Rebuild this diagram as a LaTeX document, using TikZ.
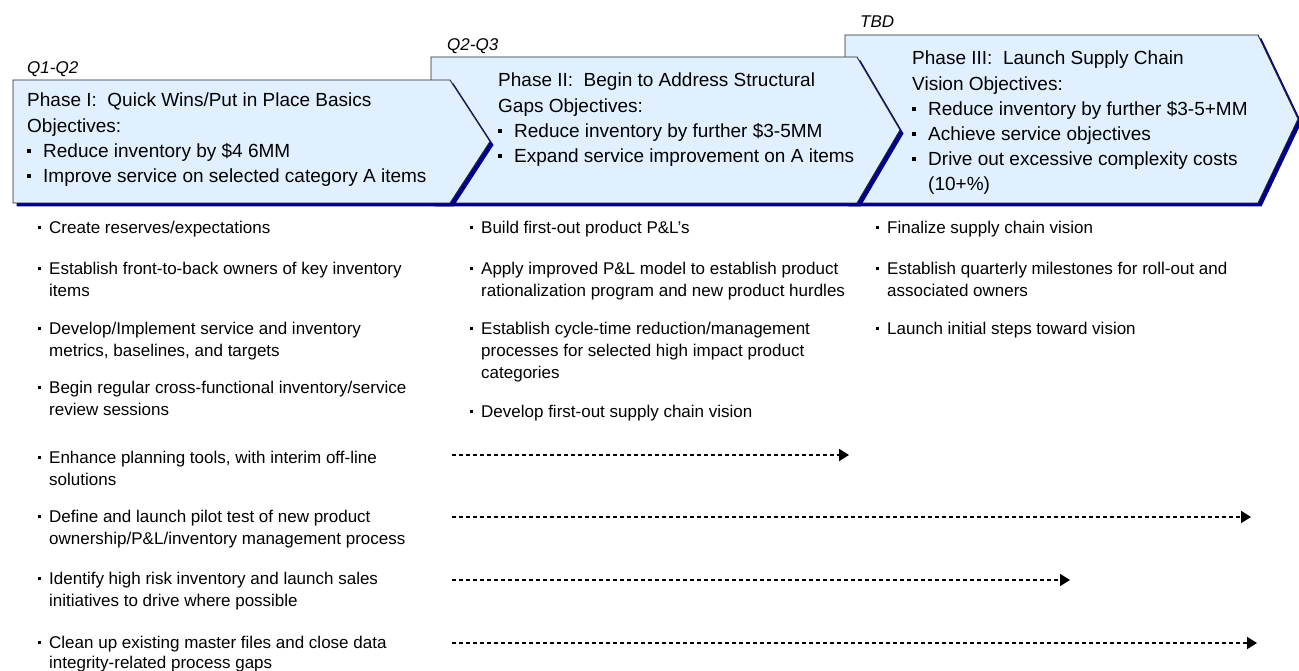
\documentclass[tikz,border=0pt]{standalone}
\usepackage{fontspec}
\setmainfont{Liberation Sans}
\usetikzlibrary{arrows.meta}
\definecolor{phasefill}{RGB}{224,240,255}
\definecolor{phaseshadow}{RGB}{0,0,140}
\newcommand{\gb}{\makebox[16pt][l]{\rule[0.25em]{0.2em}{0.2em}}}
\newcommand{\tb}{\llap{\rule[0.25em]{0.2em}{0.2em}\hspace{8pt}}}
\tikzset{
    phase/.style={draw=black!85, line width=0.9pt, fill=phasefill}, % the chevrons
    phaseshade/.style={fill=phaseshadow, draw=none}, % offset shadow under each chevron
    when/.style={anchor=base west, inner sep=0, font=\fontsize{17}{20}\selectfont\itshape},
    goal/.style={anchor=north west, inner sep=0, align=left, font=\fontsize{19}{25.2}\selectfont},
    task/.style={anchor=north west, inner sep=0, align=left, font=\fontsize{17}{22}\selectfont},
    carry/.style={line width=1.7pt, dash pattern=on 4pt off 3pt, -{Triangle[length=10pt,width=12pt]}},
    }

\begin{document}
\begin{tikzpicture}[x=1pt,y=-1pt]
    \useasboundingbox (0,0) rectangle (1299,671);

    % chevrons, back to front
    \foreach \l/\t/\r/\tip in {845/35/1258/1298, 431/57/857/900, 13/80/450/490}{
        \fill[phaseshade,shift={(3.5,3.5)}] (\l,\t) -- (\r,\t) -- (\tip,{(\t+203)/2}) -- (\r,203) -- (\l,203) -- cycle;
        \draw[phase] (\l,\t) -- (\r,\t) -- (\tip,{(\t+203)/2}) -- (\r,203) -- (\l,203) -- cycle;
    }

    \node[when] at (27,74) (QONE) {Q1-Q2};
    \node[when] at (447,51) (QTWO) {Q2-Q3};
    \node[when] at (860,28) (TBD) {TBD};

    \node[goal] at (27,93) (PHASEI) {Phase I:\ \ Quick Wins/Put in Place Basics\\Objectives:\\\gb Reduce inventory by \$4 6MM\\\gb Improve service on selected category A items};
    \node[goal] at (498,73) (PHASEII) {Phase II:\ \ Begin to Address Structural\\Gaps Objectives:\\\gb Reduce inventory by further \$3-5MM\\\gb Expand service improvement on A items};
    \node[goal] at (912,51) (PHASEIII) {Phase III:\ \ Launch Supply Chain\\Vision Objectives:\\\gb Reduce inventory by further \$3-5+MM\\\gb Achieve service objectives\\\gb Drive out excessive complexity costs\\\hspace*{16pt}(10+\%)};

    % first column
    \node[task] at (49,221) (CREATE) {\tb Create reserves/expectations};
    \node[task] at (49,262) (OWNERS) {\tb Establish front-to-back owners of key inventory\\items};
    \node[task] at (49,322) (METRICS) {\tb Develop/Implement service and inventory\\metrics, baselines, and targets};
    \node[task] at (49,381) (REVIEW) {\tb Begin regular cross-functional inventory/service\\review sessions};
    \node[task] at (49,451) (TOOLS) {\tb Enhance planning tools, with interim off-line\\solutions};
    \node[task] at (49,510) (PILOT) {\tb Define and launch pilot test of new product\\ownership/P\&L/inventory management process};
    \node[task] at (49,572) (RISK) {\tb Identify high risk inventory and launch sales\\initiatives to drive where possible};
    \node[task, font=\fontsize{17}{19.5}\selectfont] at (49,636) (CLEAN) {\tb Clean up existing master files and close data\\integrity-related process gaps};

    % second column
    \node[task] at (481,221) (PNL) {\tb Build first-out product P\&L's};
    \node[task] at (481,262) (MODEL) {\tb Apply improved P\&L model to establish product\\rationalization program and new product hurdles};
    \node[task] at (481,322) (CYCLE) {\tb Establish cycle-time reduction/management\\processes for selected high impact product\\categories};
    \node[task] at (481,405) (VISION) {\tb Develop first-out supply chain vision};

    % third column
    \node[task] at (887,221) (FINAL) {\tb Finalize supply chain vision};
    \node[task] at (887,262) (MILES) {\tb Establish quarterly milestones for roll-out and\\associated owners};
    \node[task] at (887,322) (LAUNCH) {\tb Launch initial steps toward vision};

    % carry-over arrows
    \coordinate (TOOLSA) at (452,455);
    \coordinate (TOOLSB) at (849,455);
    \coordinate (PILOTA) at (452,517);
    \coordinate (PILOTB) at (1251,517);
    \coordinate (RISKA) at (452,580);
    \coordinate (RISKB) at (1070,580);
    \coordinate (CLEANA) at (452,643);
    \coordinate (CLEANB) at (1257,643);
    \draw[carry] (TOOLSA) -- (TOOLSB);
    \draw[carry] (PILOTA) -- (PILOTB);
    \draw[carry] (RISKA) -- (RISKB);
    \draw[carry] (CLEANA) -- (CLEANB);
\end{tikzpicture}
\end{document}
